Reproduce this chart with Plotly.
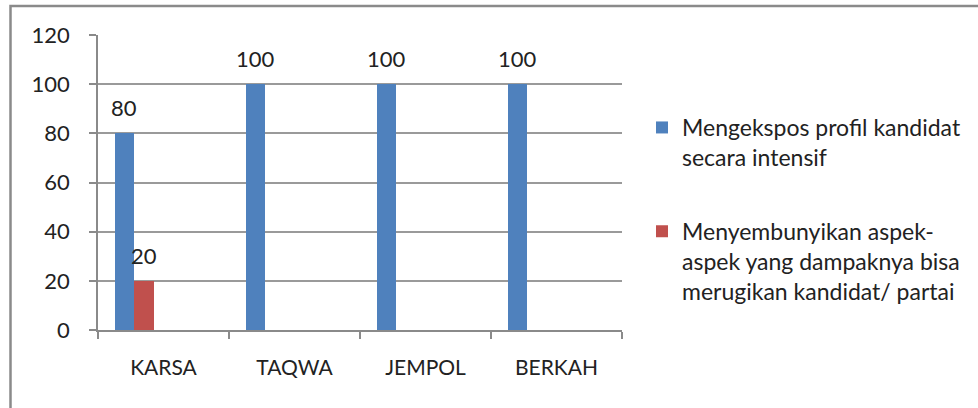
import plotly.graph_objects as go

categories = ["KARSA", "TAQWA", "JEMPOL", "BERKAH"]
series_names = [
    "Mengekspos profil kandidat<br>secara intensif",
    "Menyembunyikan aspek-<br>aspek yang dampaknya bisa<br>merugikan kandidat/ partai",
]
series_values = [
    [80, 100, 100, 100],
    [20, None, None, None],
]
colors = ["#4F81BD", "#C0504D"]
y_ticks = [0, 20, 40, 60, 80, 100, 120]

FONT = "Lato"
bar_w = 0.148
offsets = [-0.372, -0.222]

fig = go.Figure()
for i, (name, vals) in enumerate(zip(series_names, series_values)):
    fig.add_trace(go.Bar(
        x=categories, y=vals, name=name,
        marker=dict(color=colors[i], line=dict(width=0)),
        width=bar_w, offset=offsets[i],
        legendgroup=f"g{i}",
    ))
    for j, v in enumerate(vals):
        if v is None:
            continue
        fig.add_annotation(
            x=j + offsets[i] + bar_w / 2, y=v, xref="x", yref="y",
            text=str(v), showarrow=False, yanchor="bottom", yshift=10,
            font=dict(family=FONT, size=22, color="#222"),
        )

L, R, T, B = 98, 356, 35, 78
W, H = 978, 408
pw, ph = W - L - R, H - T - B

def px(xp):
    return (xp - L) / pw

def py(yp):
    return (H - B - yp) / ph

fig.add_shape(
    type="path", xref="paper", yref="paper",
    path=f"M {px(10.5)},{py(412)} L {px(10.5)},{py(6)} L {px(990)},{py(6)}",
    line=dict(color="#8a8a8a", width=2.5),
)

fig.update_layout(
    width=W, height=H,
    margin=dict(l=L, r=R, t=T, b=B, pad=0),
    paper_bgcolor="white", plot_bgcolor="white",
    font=dict(family=FONT, size=20, color="#222"),
    showlegend=True,
    legend=dict(
        x=px(642), y=py(106), xanchor="left", yanchor="top",
        traceorder="grouped", tracegroupgap=41, valign="top",
        font=dict(family=FONT, size=23, color="#222"),
        itemwidth=30, bgcolor="rgba(0,0,0,0)",
    ),
    xaxis=dict(
        type="category", range=[-0.5, 3.5], tickson="boundaries",
        ticks="outside", ticklen=7, tickcolor="#8a8a8a", tickwidth=1.5,
        showline=True, linecolor="#8a8a8a", linewidth=1.5,
        showgrid=False, ticklabelstandoff=18,
        tickfont=dict(family=FONT, size=21, color="#222"),
    ),
    yaxis=dict(
        range=[0, 120], tickvals=y_ticks,
        ticks="outside", ticklen=7, tickcolor="#8a8a8a", tickwidth=1.5,
        showline=True, linecolor="#8a8a8a", linewidth=1.5,
        showgrid=True, gridcolor="#9a9a9a", gridwidth=1.5,
        zeroline=False, ticklabelstandoff=15,
        tickfont=dict(family=FONT, size=22, color="#222"),
    ),
    bargap=0, barmode="group",
)

fig.write_html("out.html")
